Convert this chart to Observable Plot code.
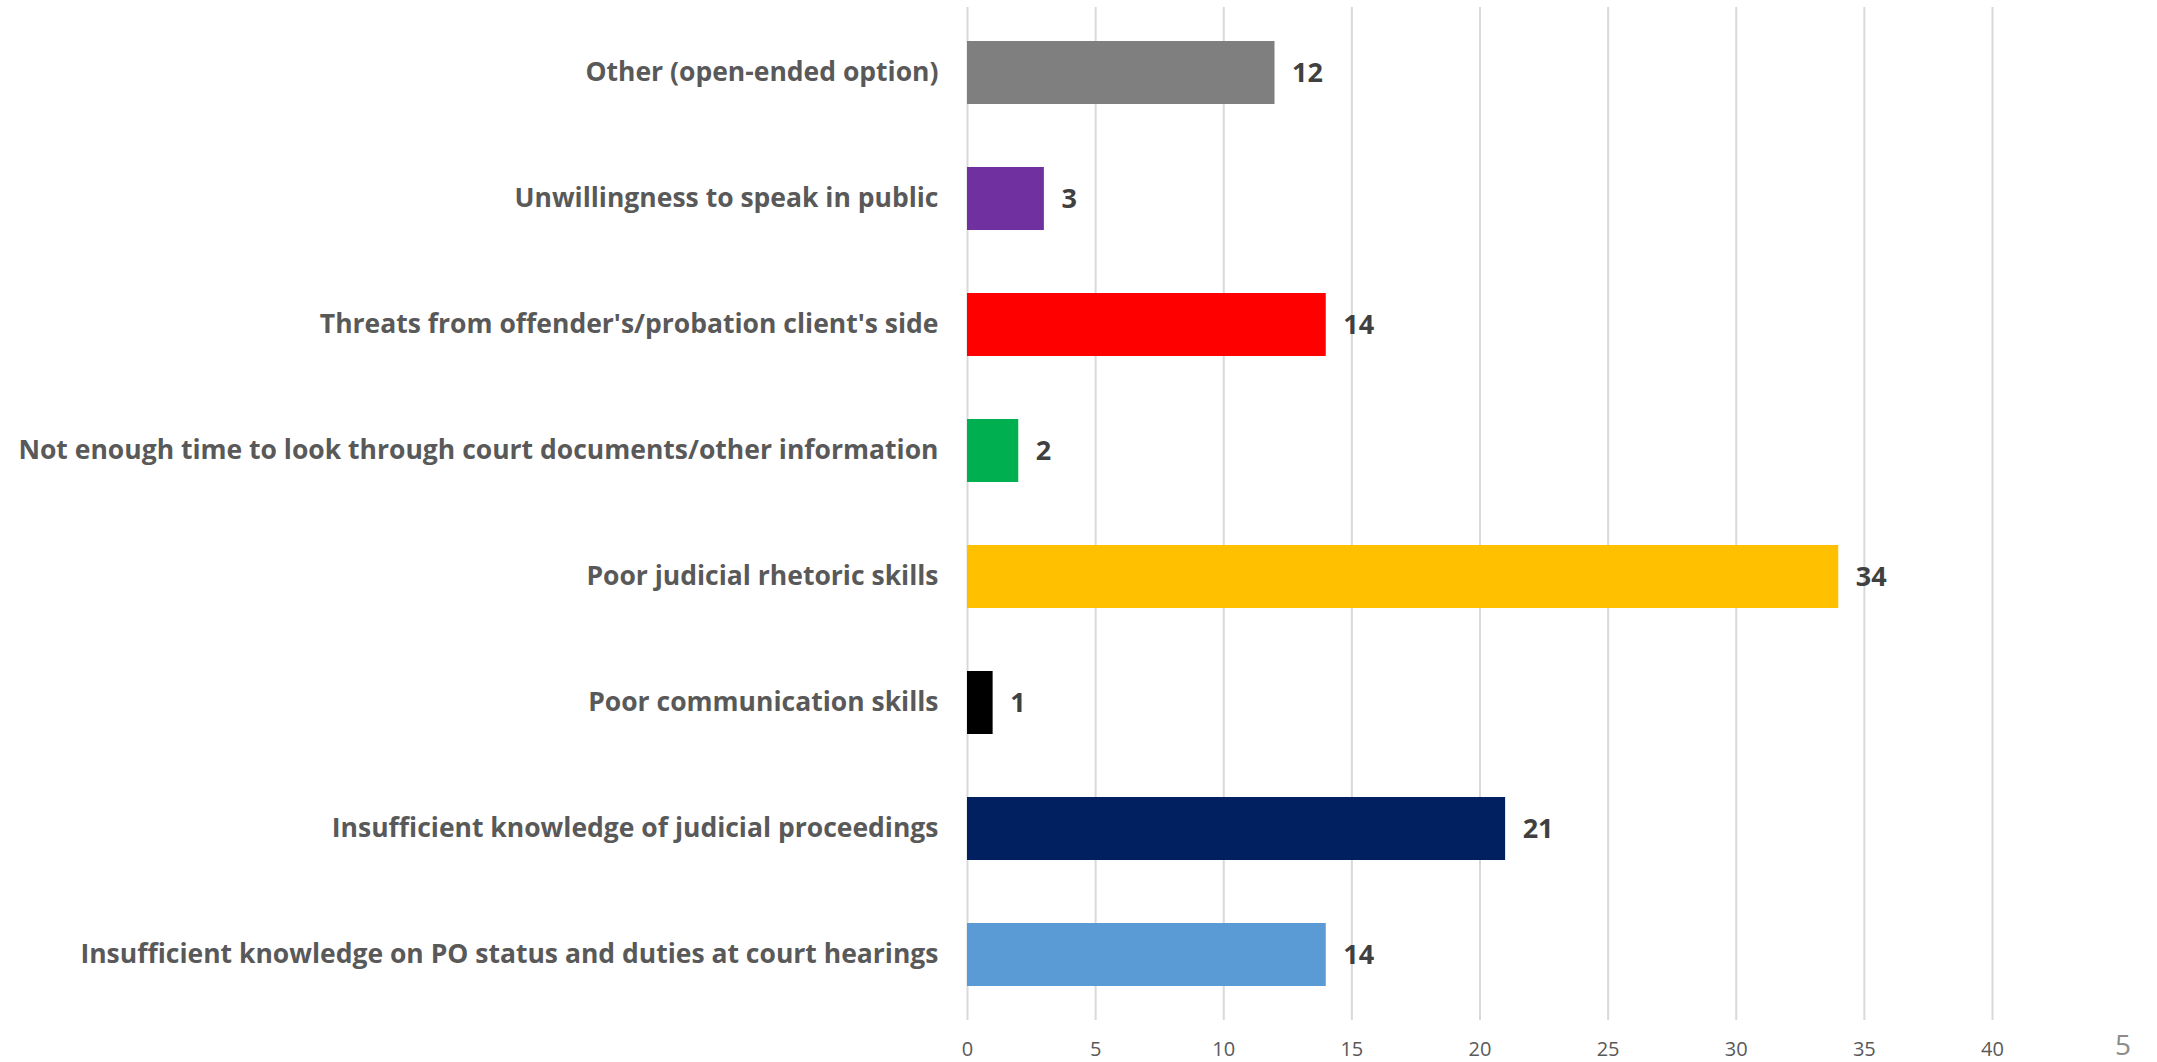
<!DOCTYPE html>
<html>
<head>
<meta charset="utf-8">
<script src="https://cdn.jsdelivr.net/npm/d3@7"></script>
<script src="https://cdn.jsdelivr.net/npm/@observablehq/plot@0.6"></script>
<style>
  html, body { margin: 0; padding: 0; background: #fff; }
  #wrap { position: relative; width: 2157px; height: 1062px; overflow: hidden; }
  #page { position: absolute; left: 2115px; top: 1030px; font-family: "Open Sans", sans-serif; font-size: 28px; color: #8c8c8c; line-height: 28px; }
  svg { display: block; }
</style>
</head>
<body>
<div id="wrap"><div id="chart"></div><div id="page">5</div></div>
<script>
const categories = [
  "Other (open-ended option)",
  "Unwillingness to speak in public",
  "Threats from offender's/probation client's side",
  "Not enough time to look through court documents/other information",
  "Poor judicial rhetoric skills",
  "Poor communication skills",
  "Insufficient knowledge of judicial proceedings",
  "Insufficient knowledge on PO status and duties at court hearings"
];
const values = [12, 3, 14, 2, 34, 1, 21, 14];
const colors = ["#7f7f7f", "#7030a0", "#ff0000", "#00b050", "#ffc000", "#000000", "#002060", "#5b9bd5"];
const xTicks = [0, 5, 10, 15, 20, 25, 30, 35, 40];

const data = categories.map((c, i) => ({category: c, value: values[i], color: colors[i]}));

const chart = Plot.plot({
  width: 2157,
  height: 1062,
  marginLeft: 967,
  marginRight: 165,
  marginTop: 7,
  marginBottom: 42,
  style: {fontFamily: "'Open Sans', sans-serif", background: "#fff"},
  x: {domain: [0, 40], ticks: xTicks, label: null},
  y: {domain: categories, paddingInner: 0.5, paddingOuter: 0.25, label: null},
  color: {type: "identity"},
  marks: [
    Plot.gridX(xTicks, {stroke: "#d9d9d9", strokeOpacity: 1, strokeWidth: 2}),
    Plot.barX(data, {x: "value", y: "category", fill: "color"}),
    Plot.text(data, {x: "value", y: "category", text: d => String(d.value), textAnchor: "start", dx: 17,
      fill: "#404040", fontWeight: "bold", fontSize: 27}),
    Plot.axisX({ticks: xTicks, tickSize: 0, tickPadding: 21, fontSize: 20, fill: "#595959", label: null}),
    Plot.axisY({tickSize: 0, tickPadding: 29, fontSize: 26.5, fontWeight: "bold", fill: "#595959", label: null})
  ]
});
document.getElementById("chart").appendChild(chart);
</script>
</body>
</html>
